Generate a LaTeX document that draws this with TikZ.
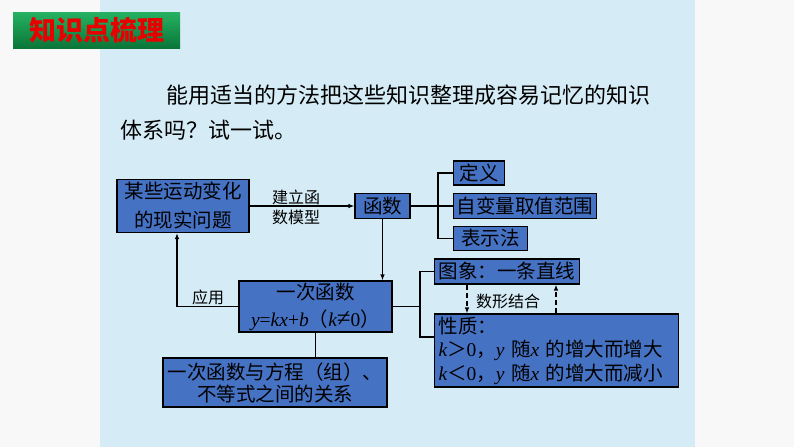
\documentclass[tikz,border=0pt]{standalone}
\usepackage{fontspec}
\setmainfont{Noto Sans CJK SC}
\newfontfamily\lat{Liberation Serif}
\newcommand{\vi}[1]{{\lat\itshape #1}}
\newcommand{\vr}[1]{{\lat #1}}
\usetikzlibrary{arrows.meta,calc}
\definecolor{outside}{RGB}{248,248,248}
\definecolor{panel}{RGB}{213,236,246}
\definecolor{boxblue}{RGB}{70,114,196}
\definecolor{tgreenA}{RGB}{38,178,98}
\definecolor{tgreenB}{RGB}{10,118,56}
\definecolor{tred}{RGB}{232,0,0}
\begin{document}
\begin{tikzpicture}[x=1pt,y=-1pt,
  box/.style={draw=black,line width=1.1pt,fill=boxblue,inner sep=0pt,text=black,font=\fontsize{19.5}{24}\selectfont},
  lab/.style={inner sep=0pt,text=black,font=\fontsize{16}{20}\selectfont},
  conn/.style={line width=1.4pt,draw=black},
  arr/.style={conn,-{Latex[length=6pt,width=4.5pt]}},
  darr/.style={conn,dash pattern=on 5pt off 3pt,-{Latex[length=6pt,width=4.5pt]}}]
\useasboundingbox (0,0) rectangle (794,447);
\fill[outside] (0,0) rectangle (794,447);
\fill[panel] (100,0) rectangle (695,447);
\shade[top color=tgreenA,bottom color=tgreenB] (13,12) rectangle (180,48);
\node[text=tred,font=\fontsize{27}{30}\selectfont\bfseries] (title) at (96.5,30) {知识点梳理};
\node[anchor=west,inner sep=0pt,font=\fontsize{22}{26}\selectfont] (q1) at (166,95) {能用适当的方法把这些知识整理成容易记忆的知识};
\node[anchor=west,inner sep=0pt,font=\fontsize{22}{26}\selectfont] (q2) at (120,130) {体系吗？试一试。};
% boxes
\node[box,minimum width=132pt,minimum height=53pt,align=center,font=\fontsize{19.5}{29}\selectfont] (A) at (183,206) {某些运动变化\\的现实问题};
\node[box,minimum width=55pt,minimum height=25pt] (hs) at (382.5,206) {函数};
\node[box,minimum width=51pt,minimum height=24pt,anchor=west] (dy) at (453,173) {定义};
\node[box,minimum width=143pt,minimum height=25pt,anchor=west] (zb) at (453,206) {自变量取值范围};
\node[box,minimum width=74pt,minimum height=24pt,anchor=west] (bs) at (453,238.5) {表示法};
\node[box,minimum width=153pt,minimum height=51pt,align=center,font=\fontsize{19.5}{27}\selectfont] (yc) at (315.5,306.5) {一次函数\\\vi{y}\vr{=}\vi{kx}\vr{+}\vi{b}（\vi{k}{\lat\fontsize{25}{27}\selectfont ≠}\vr{0}）};
\node[box,minimum width=224pt,minimum height=49pt,align=center,font=\fontsize{19.5}{22}\selectfont] (gx) at (275,382.5) {一次函数与方程（组）、\\不等式之间的关系};
\node[box,minimum width=145pt,minimum height=25pt,anchor=west] (tx) at (434,271.5) {图象：一条直线};
\node[box,minimum height=73pt,anchor=west,align=left,text width=236pt,inner xsep=4pt,font=\fontsize{19.5}{23.5}\selectfont] (xz) at (434,350.5) {性质：\\\vi{k}＞\vr{0}，\vi{y} 随\vi{x} 的增大而增大\\\vi{k}＜\vr{0}，\vi{y} 随\vi{x} 的增大而减小};
% labels
\node[lab,align=left] (jl) at (296,207) {建立函\\数模型};
\node[lab] (yy) at (208,297) {应用};
\node[lab] (sx) at (508,301) {数形结合};
% helper coordinates
\coordinate (t1) at (438,0);
\coordinate (t2) at (420,0);
\coordinate (ua) at (177,0);
\coordinate (b2) at (420,337);
\coordinate (d1) at (467,0);
\coordinate (d2) at (556,0);
% connectors
\draw[arr] (A.east) -- (hs.west);
\draw[conn] (hs.east) -- (zb.west);
\draw[conn] (dy.west) -- (dy.west -| t1) -- (bs.west -| t1) -- (bs.west);
\draw[arr] (hs.south) -- (hs.south |- yc.north);
\draw[arr] (yc.west) -| (A.south -| ua);
\draw[conn] (yc.south) -- (yc.south |- gx.north);
\draw[conn] (yc.east) -- (yc.east -| t2);
\draw[conn] (tx.west) -| (b2) -- (b2 -| xz.west);
\draw[darr] (tx.south -| d1) -- (xz.north -| d1);
\draw[darr] (xz.north -| d2) -- (tx.south -| d2);
\end{tikzpicture}
\end{document}
